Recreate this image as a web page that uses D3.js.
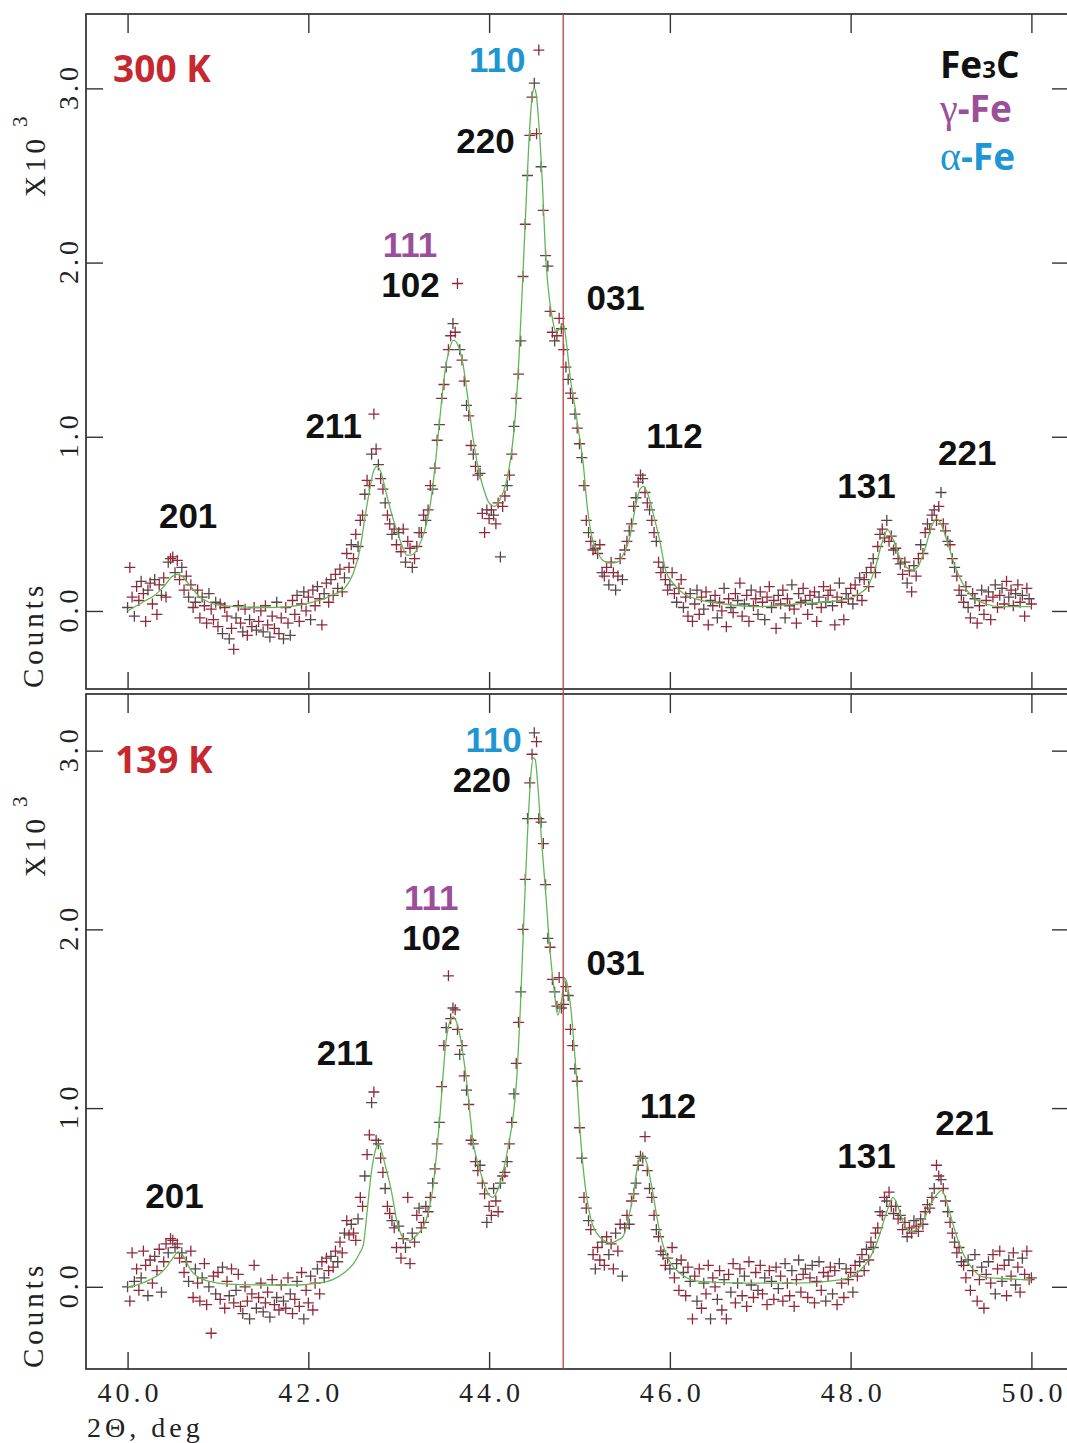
<!DOCTYPE html>
<html>
<head>
<meta charset="utf-8">
<script src="https://cdn.jsdelivr.net/npm/d3@7"></script>
<style>
  body { margin: 0; background: #fff; }
  svg { display: block; }
</style>
</head>
<body>
<div id="chart"></div>
<script>
// ---- data (counts in units of 10^3), scan grid 40.0 .. 50.0 deg, step 0.025 ----
const scanStart = 40.0;
const scanStep = 0.025;

const counts300 = [
  0.02, 0.25, 0.08, -0.03, 0.14, 0.06, 0.17, 0.10, -0.06, 0.12,
  0.16, 0.04, 0.18, -0.02, 0.15, 0.09, 0.19, 0.08, 0.28, 0.30,
  0.31, 0.22, 0.29, 0.18, 0.25, 0.12, 0.20, 0.08, 0.15, 0.02,
  0.05, 0.12, -0.04, 0.08, 0.03, -0.07, 0.10, 0.01, -0.05, 0.05,
  -0.09, 0.04, -0.13, 0.02, -0.03, -0.16, -0.10, -0.22, -0.04, 0.03,
  -0.07, -0.12, 0.01, -0.14, -0.05, -0.09, 0.02, -0.11, -0.06, 0.00,
  -0.12, 0.03, -0.08, -0.15, -0.03, -0.10, 0.05, -0.13, -0.04, -0.16,
  0.02, -0.07, -0.14, 0.06, -0.02, 0.09, -0.06, 0.04, 0.11, 0.00,
  0.08, -0.05, 0.12, 0.03, 0.14, 0.07, -0.08, 0.10, 0.16, 0.05,
  0.18, 0.09, 0.21, 0.13, 0.24, 0.11, 0.19, 0.33, 0.25, 0.38,
  0.30, 0.44, 0.37, 0.52, 0.55, 0.67, 0.75, 0.72, 0.90, 1.13,
  0.93, 0.84, 0.76, 0.70, 0.62, 0.55, 0.50, 0.44, 0.47, 0.38,
  0.45, 0.34, 0.47, 0.28, 0.40, 0.36, 0.25, 0.30, 0.37, 0.45,
  0.45, 0.55, 0.52, 0.58, 0.72, 0.70, 0.82, 0.98, 1.07, 1.22,
  1.30, 1.40, 1.50, 1.58, 1.65, 1.60, 1.88, 1.50, 1.44, 1.32,
  1.18, 1.12, 0.95, 0.90, 0.83, 0.78, 0.79, 0.56, 0.45, 0.58,
  0.53, 0.58, 0.55, 0.50, 0.62, 0.31, 0.60, 0.66, 0.72, 0.78,
  0.90, 1.06, 1.22, 1.36, 1.55, 1.92, 2.22, 2.50, 2.73, 2.95,
  3.03, 2.74, 3.22, 2.55, 2.30, 2.04, 1.98, 1.72, 1.60, 1.55,
  1.58, 1.68, 1.62, 1.50, 1.40, 1.33, 1.25, 1.22, 1.13, 1.05,
  0.96, 0.88, 0.72, 0.52, 0.45, 0.40, 0.35, 0.36, 0.33, 0.38,
  0.22, 0.20, 0.25, 0.15, 0.28, 0.22, 0.12, 0.20, 0.30, 0.18,
  0.35, 0.40, 0.46, 0.50, 0.60, 0.65, 0.74, 0.78, 0.76, 0.68,
  0.62, 0.58, 0.52, 0.45, 0.40, 0.28, 0.22, 0.25, 0.18, 0.12,
  0.15, 0.22, 0.10, 0.05, 0.13, 0.18, 0.02, 0.08, -0.03, 0.10,
  -0.06, 0.04, 0.12, -0.02, 0.08, 0.01, 0.11, -0.08, 0.06, 0.03,
  0.09, -0.04, 0.05, 0.00, 0.13, -0.09, 0.07, 0.02, -0.01, 0.10,
  0.06, 0.16, -0.03, 0.04, 0.09, -0.06, 0.12, 0.03, 0.07, -0.02,
  0.11, 0.05, -0.05, 0.08, 0.14, 0.02, 0.06, -0.10, 0.09, 0.04,
  0.12, -0.04, 0.07, 0.03, 0.15, 0.01, -0.07, 0.10, 0.05, 0.13,
  0.06, -0.02, 0.09, 0.04, 0.11, -0.06, 0.08, 0.02, 0.14, 0.05,
  0.09, 0.12, 0.03, -0.08, 0.08, 0.16, 0.05, -0.05, 0.10, 0.07,
  0.13, 0.04, 0.15, 0.09, 0.19, 0.06, 0.18, 0.22, 0.14, 0.25,
  0.30, 0.22, 0.37, 0.44, 0.47, 0.42, 0.52, 0.40, 0.43, 0.35,
  0.36, 0.30, 0.27, 0.21, 0.28, 0.16, 0.23, 0.11, 0.26, 0.20,
  0.30, 0.38, 0.33, 0.45, 0.50, 0.47, 0.55, 0.58, 0.52, 0.60,
  0.68, 0.50, 0.46, 0.40, 0.38, 0.30, 0.25, 0.20, 0.12, 0.09,
  0.05, 0.14, 0.02, -0.04, 0.10, 0.07, -0.07, 0.03, 0.12, -0.02,
  0.06, 0.11, -0.05, 0.08, 0.15, 0.02, 0.09, 0.13, 0.04, 0.17,
  0.08, 0.12, 0.03, 0.10, 0.15, 0.05, 0.09, -0.03, 0.13, 0.07,
  0.04
];

const counts139 = [
  0.00, -0.08, 0.19, 0.03, 0.10, -0.02, 0.05, 0.20, 0.12, -0.05,
  0.15, 0.02, 0.17, 0.09, 0.21, -0.03, 0.14, 0.24, 0.19, 0.27,
  0.26, 0.22, 0.24, 0.16, 0.19, 0.08, 0.14, 0.03, 0.20, -0.06,
  0.10, 0.02, -0.08, 0.05, 0.13, -0.10, 0.00, -0.26, 0.06, -0.04,
  0.08, -0.07, 0.11, -0.12, 0.03, -0.05, 0.10, -0.09, -0.02, 0.07,
  -0.11, -0.15, 0.00, -0.08, -0.18, -0.04, 0.12, -0.12, -0.06, 0.02,
  -0.14, -0.09, -0.03, -0.17, 0.04, -0.10, -0.06, -0.13, 0.01, -0.08,
  -0.12, 0.05, -0.04, -0.15, -0.07, 0.03, -0.11, 0.08, -0.18, -0.02,
  -0.09, 0.06, -0.13, 0.02, 0.10, -0.04, 0.14, 0.05, 0.16, 0.09,
  0.17, 0.11, 0.20, 0.14, 0.25, 0.19, 0.30, 0.37, 0.29, 0.35,
  0.30, 0.26, 0.38, 0.50, 0.45, 0.62, 0.74, 0.85, 1.03, 1.09,
  0.82, 0.80, 0.72, 0.64, 0.55, 0.45, 0.41, 0.37, 0.33, 0.22,
  0.34, 0.16, 0.27, 0.22, 0.50, 0.13, 0.30, 0.25, 0.40, 0.44,
  0.33, 0.36, 0.45, 0.42, 0.50, 0.58, 0.66, 0.80, 0.92, 1.12,
  1.35, 1.45, 1.74, 1.50, 1.56, 1.55, 1.44, 1.30, 1.35, 1.18,
  1.10, 1.02, 0.82, 0.80, 0.70, 0.65, 0.68, 0.58, 0.52, 0.36,
  0.45, 0.40, 0.55, 0.48, 0.42, 0.58, 0.62, 0.64, 0.70, 0.80,
  0.92, 1.08, 1.25, 1.48, 1.65, 2.00, 2.28, 2.62, 2.82, 2.98,
  3.10, 3.05, 2.62, 2.60, 2.48, 2.25, 1.95, 1.90, 1.72, 1.65,
  1.57, 1.73, 1.56, 1.58, 1.68, 1.63, 1.44, 1.35, 1.22, 1.15,
  0.89, 0.72, 0.50, 0.44, 0.37, 0.32, 0.18, 0.10, 0.22, 0.15,
  0.25, 0.12, 0.28, 0.18, 0.24, 0.10, 0.30, 0.20, 0.35, 0.06,
  0.33, 0.40, 0.35, 0.48, 0.52, 0.58, 0.68, 0.73, 0.72, 0.84,
  0.65, 0.55, 0.50, 0.40, 0.32, 0.28, 0.20, 0.18, 0.12, 0.16,
  0.10, 0.22, 0.05, 0.13, -0.02, 0.15, 0.08, -0.05, 0.11, 0.03,
  -0.18, 0.06, -0.08, 0.10, -0.12, 0.02, -0.04, 0.12, -0.18, 0.05,
  0.00, -0.07, 0.09, -0.13, 0.04, -0.18, 0.07, -0.03, 0.13, -0.09,
  0.02, 0.10, -0.05, 0.06, -0.11, 0.14, 0.01, -0.06, 0.08, -0.02,
  0.12, -0.04, 0.05, -0.10, 0.09, 0.03, -0.07, 0.11, -0.01, 0.06,
  -0.08, 0.13, 0.02, -0.05, 0.09, -0.11, 0.04, 0.15, -0.03, 0.07,
  0.10, -0.06, 0.05, 0.12, -0.09, 0.03, 0.14, -0.02, 0.08, -0.08,
  0.06, 0.11, -0.04, 0.09, -0.10, 0.13, 0.02, -0.06, 0.10, 0.04,
  0.08, -0.03, 0.12, 0.06, 0.14, 0.18, 0.09, 0.21, 0.15, 0.25,
  0.22, 0.30, 0.33, 0.42, 0.40, 0.50, 0.48, 0.53, 0.45, 0.41,
  0.45, 0.38, 0.40, 0.32, 0.36, 0.28, 0.33, 0.30, 0.37, 0.34,
  0.31, 0.38, 0.35, 0.42, 0.46, 0.44, 0.50, 0.55, 0.68, 0.62,
  0.60, 0.55, 0.48, 0.42, 0.36, 0.30, 0.25, 0.19, 0.22, 0.14,
  0.12, 0.05, 0.15, -0.02, 0.09, 0.18, -0.08, 0.04, 0.11, -0.12,
  0.07, 0.14, 0.02, 0.18, -0.04, 0.10, 0.20, 0.03, 0.12, -0.05,
  0.15, 0.06, 0.19, 0.01, 0.11, -0.03, 0.16, 0.07, 0.20, 0.04,
  0.05
];

// fitted profile, [2theta, counts]
const fit300 = [
  [40.0,0.00],[40.1,0.03],[40.2,0.06],[40.3,0.09],[40.4,0.14],[40.5,0.20],[40.55,0.21],[40.6,0.20],
  [40.7,0.14],[40.8,0.08],[40.9,0.05],[41.0,0.035],[41.2,0.025],[41.5,0.02],[41.8,0.025],[42.0,0.045],
  [42.2,0.075],[42.3,0.10],[42.4,0.13],[42.5,0.22],[42.57,0.35],[42.63,0.55],[42.68,0.70],[42.72,0.80],
  [42.76,0.83],[42.80,0.80],[42.86,0.68],[42.92,0.56],[42.98,0.46],[43.04,0.37],[43.09,0.32],[43.14,0.32],
  [43.21,0.36],[43.28,0.45],[43.34,0.58],[43.40,0.82],[43.45,1.08],[43.50,1.33],[43.55,1.48],[43.61,1.555],
  [43.66,1.52],[43.71,1.42],[43.76,1.24],[43.82,1.00],[43.88,0.82],[43.94,0.70],[44.00,0.62],[44.06,0.60],
  [44.12,0.64],[44.19,0.74],[44.25,0.92],[44.29,1.12],[44.33,1.45],[44.37,1.88],[44.41,2.35],[44.45,2.78],
  [44.48,2.97],[44.50,3.00],[44.52,2.97],[44.55,2.80],[44.59,2.45],[44.63,2.00],[44.67,1.78],[44.70,1.68],
  [44.74,1.60],[44.78,1.62],[44.82,1.65],[44.86,1.52],[44.90,1.33],[44.95,1.17],[45.00,1.00],[45.04,0.85],
  [45.09,0.58],[45.14,0.42],[45.19,0.35],[45.26,0.29],[45.34,0.275],[45.42,0.28],[45.50,0.34],[45.56,0.43],
  [45.62,0.60],[45.67,0.70],[45.71,0.715],[45.75,0.68],[45.82,0.55],[45.89,0.40],[45.95,0.24],[46.05,0.15],
  [46.15,0.10],[46.33,0.063],[46.6,0.04],[47.0,0.025],[47.4,0.04],[47.9,0.063],[48.1,0.10],[48.2,0.15],
  [48.28,0.26],[48.34,0.38],[48.41,0.465],[48.47,0.41],[48.55,0.30],[48.62,0.25],[48.69,0.235],[48.76,0.27],
  [48.83,0.37],[48.90,0.49],[48.95,0.53],[49.00,0.50],[49.08,0.38],[49.17,0.235],[49.26,0.14],[49.35,0.08],
  [49.50,0.04],[49.65,0.025],[50.0,0.025]
];

const fit139 = [
  [40.0,0.0],[40.1,0.01],[40.25,0.04],[40.35,0.07],[40.43,0.11],[40.5,0.16],[40.56,0.195],[40.62,0.17],
  [40.68,0.11],[40.73,0.075],[40.8,0.05],[40.91,0.03],[41.1,0.015],[41.5,0.01],[41.9,0.01],[42.1,0.02],
  [42.27,0.04],[42.4,0.08],[42.5,0.13],[42.57,0.19],[42.61,0.24],[42.64,0.37],[42.67,0.52],[42.70,0.65],
  [42.74,0.76],[42.78,0.80],[42.82,0.74],[42.86,0.66],[42.90,0.58],[42.94,0.48],[42.97,0.39],[43.02,0.30],
  [43.07,0.265],[43.12,0.26],[43.2,0.29],[43.27,0.335],[43.33,0.42],[43.38,0.56],[43.42,0.75],[43.46,0.98],
  [43.49,1.18],[43.52,1.36],[43.55,1.455],[43.60,1.51],[43.64,1.48],[43.68,1.40],[43.72,1.27],[43.75,1.157],
  [43.79,0.96],[43.82,0.82],[43.87,0.70],[43.93,0.60],[43.98,0.53],[44.04,0.50],[44.10,0.55],[44.15,0.635],
  [44.21,0.78],[44.27,0.97],[44.31,1.20],[44.34,1.49],[44.38,2.00],[44.42,2.48],[44.46,2.85],[44.49,2.96],
  [44.51,2.95],[44.54,2.80],[44.58,2.50],[44.63,2.18],[44.67,1.90],[44.72,1.66],[44.76,1.52],[44.80,1.60],
  [44.84,1.725],[44.87,1.68],[44.91,1.53],[44.94,1.35],[44.97,1.157],[45.02,0.78],[45.08,0.50],[45.13,0.37],
  [45.19,0.30],[45.27,0.26],[45.34,0.245],[45.42,0.26],[45.48,0.28],[45.54,0.38],[45.59,0.50],[45.65,0.69],
  [45.70,0.735],[45.74,0.70],[45.80,0.56],[45.86,0.38],[45.92,0.24],[46.0,0.14],[46.1,0.08],[46.33,0.03],
  [46.8,0.02],[47.4,0.02],[47.9,0.04],[48.1,0.09],[48.2,0.15],[48.3,0.26],[48.4,0.42],[48.47,0.50],
  [48.53,0.44],[48.6,0.34],[48.68,0.31],[48.76,0.33],[48.85,0.42],[48.93,0.50],[49.01,0.54],[49.07,0.46],
  [49.15,0.32],[49.25,0.18],[49.35,0.10],[49.46,0.056],[49.7,0.045],[50.0,0.04]
];

// reflection labels: stacks of [text, phase, 2theta of label centre, counts at label baseline]
const hkl300 = [
  [["110","alpha",44.09,3.094],["220","cem",43.96,2.629]],
  [["111","gamma",43.125,2.032],["102","cem",43.13,1.803]],
  [["031","cem",45.40,1.728]],
  [["211","cem",42.28,0.993]],
  [["112","cem",46.05,0.936]],
  [["201","cem",40.67,0.476]],
  [["131","cem",48.175,0.649]],
  [["221","cem",49.29,0.838]]
];
const hkl139 = [
  [["110","alpha",44.05,2.992],["220","cem",43.92,2.768]],
  [["111","gamma",43.36,2.108],["102","cem",43.36,1.885]],
  [["031","cem",45.40,1.744]],
  [["211","cem",42.405,1.241]],
  [["112","cem",45.98,0.944]],
  [["201","cem",40.52,0.440]],
  [["131","cem",48.175,0.664]],
  [["221","cem",49.26,0.849]]
];

const tempLabels = ["300 K", "139 K"];
const xTicks = [40, 42, 44, 46, 48, 50];
const yTicks = [0, 1, 2, 3];
const markerLine = 44.82;

// ---- drawing ----
const W = 1067, H = 1443;
const LEFT = 86, RIGHT = 1068;
const serif = "'Liberation Serif', 'Times New Roman', serif";
const sans = "'Open Sans', 'Noto Sans', sans-serif";
// tighter line box so stacked labels (40 px apart) do not collide
const labelFont = "'Liberation Sans', Arial, sans-serif";
const phaseColor = { cem: "#111111", gamma: "#9b4f9b", alpha: "#1e96d4" };
const red = "#c6282f";

const svg = d3.select("#chart").append("svg")
  .attr("width", W).attr("height", H);
svg.append("rect").attr("width", W).attr("height", H).attr("fill", "#fff");

const x = d3.scaleLinear().domain([39.54, 50.405]).range([LEFT, RIGHT]);

const panels = [
  { counts: counts300, fit: fit300, hkl: hkl300, label: tempLabels[0], labelPos: [39.84, 3.037],
    top: 14, bottom: 689, yDomain: [-0.448, 3.427], legend: true, xLabels: false },
  { counts: counts139, fit: fit139, hkl: hkl139, label: tempLabels[1], labelPos: [39.86, 2.875],
    top: 694, bottom: 1369, yDomain: [-0.46, 3.317], legend: false, xLabels: true }
];

panels.forEach(p => {
  const y = d3.scaleLinear().domain(p.yDomain).range([p.bottom, p.top]);
  const g = svg.append("g");

  // frame
  g.append("rect")
    .attr("x", LEFT).attr("y", p.top)
    .attr("width", RIGHT - LEFT).attr("height", p.bottom - p.top)
    .attr("fill", "none").attr("stroke", "#2e2e2e").attr("stroke-width", 1.7);

  // ticks, all pointing inwards
  g.append("g").attr("transform", `translate(0,${p.top})`)
    .call(d3.axisTop(x).tickValues(xTicks).tickSize(-19).tickFormat(""));
  const xb = g.append("g").attr("transform", `translate(0,${p.bottom})`)
    .call(d3.axisBottom(x).tickValues(xTicks).tickSize(-17).tickPadding(13)
      .tickFormat(p.xLabels ? d3.format(".1f") : ""));
  g.append("g").attr("transform", `translate(${LEFT},0)`)
    .call(d3.axisLeft(y).tickValues(yTicks).tickSize(-17).tickFormat(""));
  g.append("g").attr("transform", `translate(${RIGHT},0)`)
    .call(d3.axisRight(y).tickValues(yTicks).tickSize(-16).tickFormat(""));
  g.selectAll(".domain").remove();
  g.selectAll(".tick line").attr("stroke", "#333").attr("stroke-width", 1.4);
  xb.selectAll("text")
    .attr("font-family", serif).attr("font-size", 28)
    .attr("letter-spacing", 4).attr("fill", "#222").attr("dx", 2);

  // y tick labels (rotated)
  g.selectAll(".ylab").data(yTicks).join("text")
    .attr("transform", d => `translate(78,${y(d)}) rotate(-90)`)
    .attr("text-anchor", "middle").attr("dx", 2)
    .attr("font-family", serif).attr("font-size", 28)
    .attr("letter-spacing", 4).attr("fill", "#222")
    .text(d3.format(".1f"));

  // y titles
  const xt = g.append("text")
    .attr("transform", `translate(45,${p.top + 183}) rotate(-90)`)
    .attr("font-family", serif).attr("font-size", 29)
    .attr("letter-spacing", 4).attr("fill", "#222")
    .text("X10");
  xt.append("tspan").attr("dx", 8).attr("dy", -18).attr("font-size", 21).text("3");
  g.append("text")
    .attr("transform", `translate(43,${p.top + 674}) rotate(-90)`)
    .attr("font-family", serif).attr("font-size", 29)
    .attr("letter-spacing", 4).attr("fill", "#222")
    .text("Counts");

  // data points as "+" markers
  const pts = p.counts.map((v, i) => [scanStart + i * scanStep, v]);
  const arm = 5.5;
  g.append("g").selectAll("path").data(pts).join("path")
    .attr("d", d => {
      const px = x(d[0]), py = y(d[1]);
      return `M${px - arm},${py}h${2 * arm}M${px},${py - arm}v${2 * arm}`;
    })
    .attr("fill", "none")
    .attr("stroke", (d, i) => i % 3 === 0 ? "#5a4446" : "#8f2a3a")
    .attr("stroke-width", 1.3);

  // fitted profile
  g.append("path")
    .datum(p.fit)
    .attr("d", d3.line().x(d => x(d[0])).y(d => y(d[1])).curve(d3.curveMonotoneX))
    .attr("fill", "none").attr("stroke", "#62b65a").attr("stroke-width", 1.3);

  // temperature
  g.append("text")
    .attr("x", x(p.labelPos[0])).attr("y", y(p.labelPos[1]))
    .attr("font-family", sans).attr("font-weight", 700).attr("font-size", 37)
    .attr("fill", red).text(p.label);

  // reflection labels
  p.hkl.flat().forEach(d => {
    g.append("text")
      .attr("x", x(d[2])).attr("y", y(d[3]))
      .attr("text-anchor", "middle")
      .attr("font-family", labelFont).attr("font-weight", 700).attr("font-size", 35)
      .attr("fill", phaseColor[d[1]])
      .text(d[0]);
  });

  if (p.legend) {
    const lg = g.append("g").attr("transform", `translate(940,${p.top})`)
      .attr("font-family", sans).attr("font-weight", 700).attr("font-size", 37);
    const t1 = lg.append("text").attr("y", 64).attr("fill", phaseColor.cem);
    t1.append("tspan").text("Fe");
    t1.append("tspan").attr("font-size", 24).text("3");
    t1.append("tspan").text("C");
    const t2 = lg.append("text").attr("y", 108).attr("fill", phaseColor.gamma);
    t2.append("tspan").attr("font-family", serif).attr("font-weight", 400).attr("font-size", 40).text("γ");
    t2.append("tspan").text("-Fe");
    const t3 = lg.append("text").attr("y", 156).attr("fill", phaseColor.alpha);
    t3.append("tspan").attr("font-family", serif).attr("font-weight", 400).attr("font-size", 40).text("α");
    t3.append("tspan").text("-Fe");
  }
});

// vertical reference line through both panels
svg.append("line")
  .attr("x1", x(markerLine)).attr("x2", x(markerLine))
  .attr("y1", panels[0].top).attr("y2", panels[1].bottom)
  .attr("stroke", "#b5403e").attr("stroke-width", 1.3);

// x axis title
svg.append("text")
  .attr("x", 87).attr("y", 1437)
  .attr("font-family", serif).attr("font-size", 28)
  .attr("letter-spacing", 4).attr("fill", "#222")
  .text("2Θ, deg");
</script>
</body>
</html>
